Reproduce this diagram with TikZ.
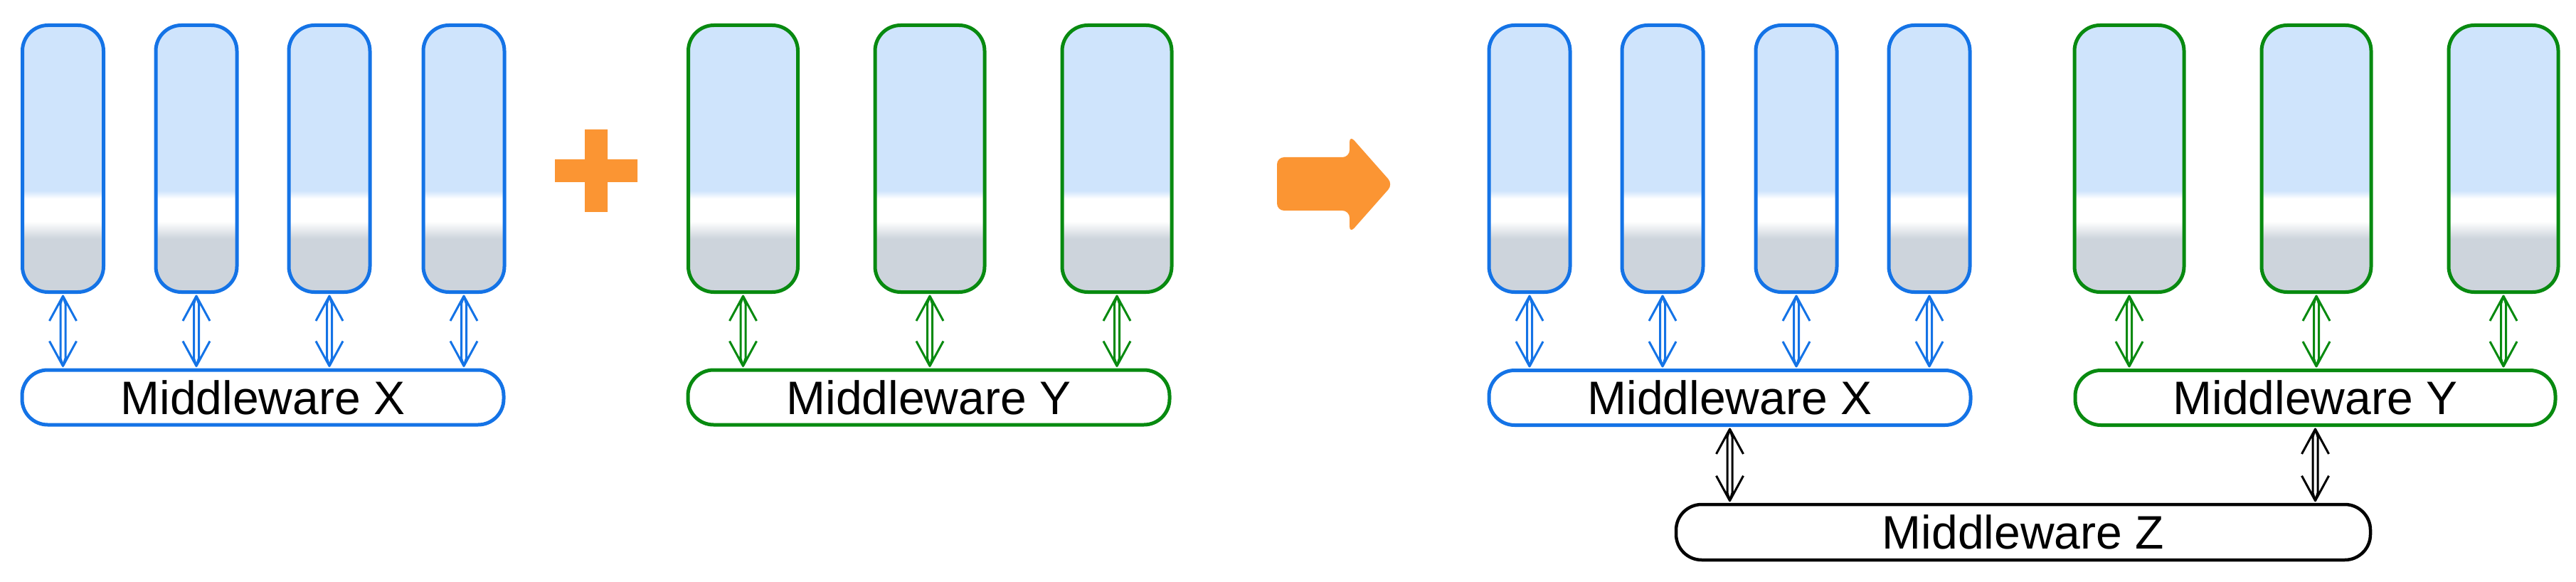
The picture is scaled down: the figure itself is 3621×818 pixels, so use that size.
\documentclass[tikz,border=0pt]{standalone}
\usepackage{fontspec}
\setmainfont{Liberation Sans}
\usetikzlibrary{calc}
\definecolor{cblue}{RGB}{20,115,230}
\definecolor{cgreen}{RGB}{8,138,16}
\definecolor{corange}{RGB}{251,149,51}
\definecolor{cfill}{RGB}{207,228,252}
\definecolor{cgray}{RGB}{205,212,220}
\pgfdeclareverticalshading{boxshade}{100bp}{color(0bp)=(cgray); color(35bp)=(cgray); color(38.25bp)=(white); color(42.5bp)=(white); color(44bp)=(cfill); color(100bp)=(cfill)}
\begin{document}
\begin{tikzpicture}[x=1pt,y=-1pt,
  app/.style={draw, line width=5pt, rounded corners=36pt, shading=boxshade, shading angle=0, minimum height=375pt, inner sep=0pt, anchor=north},
  blueapp/.style={app, draw=cblue, minimum width=114pt},
  greenapp/.style={app, draw=cgreen, minimum width=154pt},
  mw/.style={draw, line width=5pt, rounded corners=36pt, fill=white, minimum height=77pt, inner sep=0pt, font=\fontsize{66}{66}\selectfont},
  dbl/.style={line width=3pt, line join=round, to path={let \p1=(\tikztostart), \p2=(\tikztotarget) in
    (\x1-19pt,\y1-38pt) -- (\x1,\y1-3pt) -- (\x1+19pt,\y1-38pt)
    (\x1,\y1-3pt) -- (\x1-3.5pt,\y1-14pt) -- (\x2-3.5pt,\y2+14pt) -- (\x2,\y2+3pt)
    (\x1,\y1-3pt) -- (\x1+3.5pt,\y1-14pt) -- (\x2+3.5pt,\y2+14pt) -- (\x2,\y2+3pt)
    (\x2-19pt,\y2+38pt) -- (\x2,\y2+3pt) -- (\x2+19pt,\y2+38pt)}},
  sign/.style={fill=corange, draw=none}
]
\useasboundingbox (0,0) rectangle (3621,818);

% left: blue applications and Middleware X
\node[blueapp] (l1) at (88.5,33) {};
\node[blueapp] (l2) at (276,33) {};
\node[blueapp] (l3) at (463,33) {};
\node[blueapp] (l4) at (652,33) {};
\node[mw, draw=cblue, minimum width=677pt] (mxl) at (369.5,558.5) {Middleware X};
\foreach \b in {l1,l2,l3,l4}
  \draw[dbl, cblue] (\b.south) to (\b.south |- mxl.north);

% plus sign
\fill[sign] (780,224) -- (822,224) -- (822,182) -- (854,182) -- (854,224) -- (896,224)
  -- (896,256) -- (854,256) -- (854,298) -- (822,298) -- (822,256) -- (780,256) -- cycle;

% left: green applications and Middleware Y
\node[greenapp] (g1) at (1044.5,33) {};
\node[greenapp] (g2) at (1307,33) {};
\node[greenapp] (g3) at (1570,33) {};
\node[mw, draw=cgreen, minimum width=677pt] (myl) at (1305.5,558.5) {Middleware Y};
\foreach \b in {g1,g2,g3}
  \draw[dbl, cgreen] (\b.south) to (\b.south |- myl.north);

% big arrow
\fill[sign, rounded corners=10pt] (1795,221) -- (1897,221) -- (1897,190) -- (1958,259)
  -- (1897,328) -- (1897,296) -- (1795,296) -- cycle;

% right: blue applications and Middleware X
\node[blueapp] (r1) at (2150,33) {};
\node[blueapp] (r2) at (2337,33) {};
\node[blueapp] (r3) at (2525,33) {};
\node[blueapp] (r4) at (2712,33) {};
\node[mw, draw=cblue, minimum width=677pt] (mxr) at (2431.5,559) {Middleware X};
\foreach \b in {r1,r2,r3,r4}
  \draw[dbl, cblue] (\b.south) to (\b.south |- mxr.north);

% right: green applications and Middleware Y
\node[greenapp] (h1) at (2993,33) {};
\node[greenapp] (h2) at (3256,33) {};
\node[greenapp] (h3) at (3519,33) {};
\node[mw, draw=cgreen, minimum width=675pt] (myr) at (3254.5,559) {Middleware Y};
\foreach \b in {h1,h2,h3}
  \draw[dbl, cgreen] (\b.south) to (\b.south |- myr.north);

% Middleware Z
\node[mw, draw=black, line width=4.5pt, minimum width=976pt, minimum height=78pt] (mz) at (2844,748) {Middleware Z};
\draw[dbl, black] (mxr.south) to (mxr.south |- mz.north);
\draw[dbl, black] (myr.south) to (myr.south |- mz.north);
\end{tikzpicture}
\end{document}
